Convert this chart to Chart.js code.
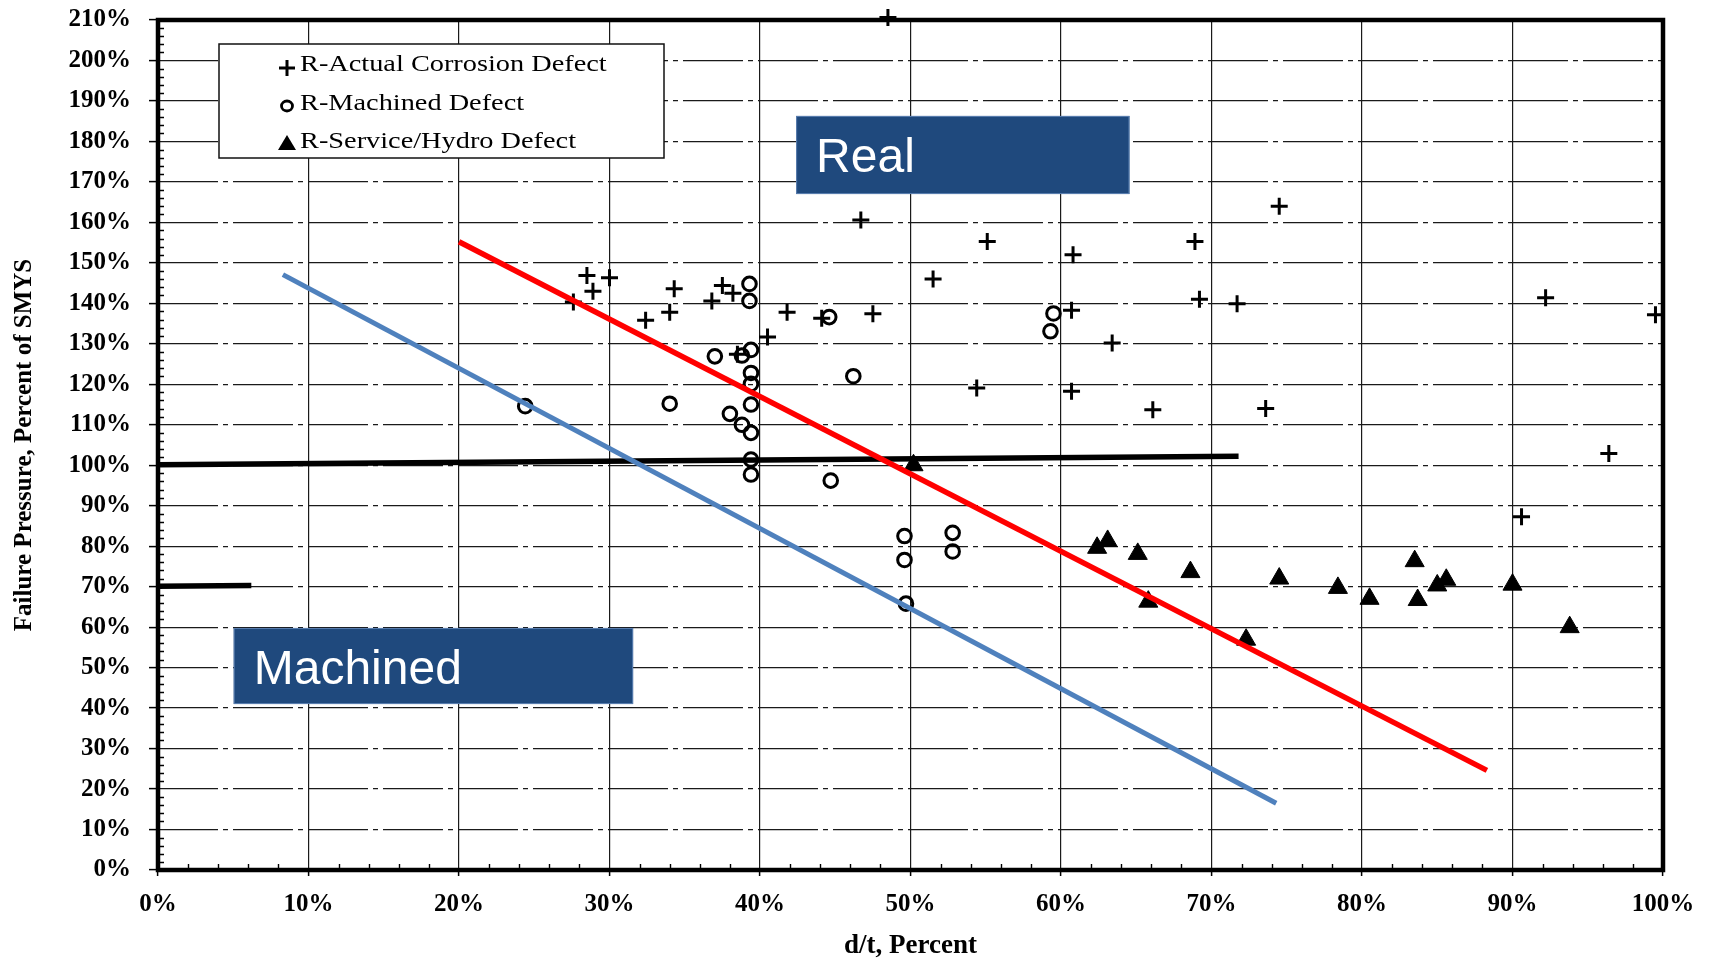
<!DOCTYPE html>
<html>
<head>
<meta charset="utf-8">
<title>Failure Pressure vs d/t</title>
<style>
  html, body { margin: 0; padding: 0; background: #ffffff; }
  canvas { display: block; }
</style>
<script src="https://cdn.jsdelivr.net/npm/chart.js@4.4.1/dist/chart.umd.min.js"></script>
</head>
<body>
<canvas id="chart" width="1711" height="963"></canvas>
<script>
// ---- data: d/t (percent) and failure pressure (percent of SMYS) ----
const corrosionDt = [48.5, 74.5, 46.7, 55.1, 68.9, 60.8, 51.5, 28.5, 30.0, 28.9, 27.6, 34.3, 34.0, 32.4,
                     37.5, 36.8, 38.2, 41.8, 40.5, 44.1, 47.5, 69.2, 71.7, 60.7, 92.2, 99.5, 63.4, 54.4,
                     60.7, 66.1, 73.6, 96.4, 90.6, 38.5];
const corrosionFp = [210.6, 164.0, 160.6, 155.3, 155.3, 152.0, 146.0, 146.9, 146.3, 143.0, 140.3, 143.6, 137.8, 135.8,
                     144.4, 140.6, 142.5, 137.8, 131.7, 136.3, 137.4, 141.0, 139.9, 138.3, 141.4, 137.2, 130.2, 119.1,
                     118.3, 113.7, 114.0, 102.9, 87.3, 127.4];

const machinedDt = [24.4, 34.0, 39.3, 39.3, 44.6, 37.0, 38.8, 39.4, 39.4, 39.4, 46.2, 39.4, 38.0,
                    38.8, 39.4, 39.4, 39.4, 44.7, 59.5, 59.3, 49.6, 49.6, 52.8, 52.8, 49.7];
const machinedFp = [114.6, 115.2, 144.8, 140.6, 136.6, 126.9, 127.1, 128.5, 122.8, 120.1, 122.0, 115.0, 112.7,
                    110.0, 108.0, 101.4, 97.7, 96.2, 137.5, 133.1, 82.5, 76.6, 83.3, 78.7, 65.8];

const serviceDt = [50.2, 62.4, 63.1, 65.1, 68.6, 65.8, 72.3, 74.5, 78.4, 80.5, 83.5, 83.7, 85.0, 85.6, 90.0, 93.8];
const serviceFp = [100.0, 79.6, 81.3, 78.1, 73.6, 66.3, 56.9, 72.0, 69.7, 67.0, 76.3, 66.7, 70.3, 71.7, 70.5, 60.0];

// trend lines (start, end)
const realLineDt = [20.0, 88.3];
const realLineFp = [155.2, 24.6];
const machinedLineDt = [8.3, 74.3];
const machinedLineFp = [147.1, 16.5];

// reference levels drawn as heavy rules
const smysRuleDt = [0, 71.8];
const smysRuleFp = [100.1, 102.2];
const hydroRuleDt = [0, 6.2];
const hydroRuleFp = [70.1, 70.3];

// axes
const xTicks = [0, 10, 20, 30, 40, 50, 60, 70, 80, 90, 100];
const yTicks = [0, 10, 20, 30, 40, 50, 60, 70, 80, 90, 100, 110, 120, 130, 140, 150, 160, 170, 180, 190, 200, 210];
const xTitle = 'd/t, Percent';
const yTitle = 'Failure Pressure, Percent of SMYS';

const seriesLabels = ['R-Actual Corrosion Defect', 'R-Machined Defect', 'R-Service/Hydro Defect'];
const calloutLabels = ['Real', 'Machined'];

// ---- helpers ----
const pair = (xs, ys) => xs.map((x, i) => ({ x: x, y: ys[i] }));
const SERIF = "'Liberation Serif', 'Times New Roman', serif";
const SANS = "'Liberation Sans', Arial, sans-serif";
Chart.defaults.font.family = SERIF;
Chart.defaults.color = '#000';

// frame around the plot area plus small inward minor ticks every 2 %
const framePlugin = {
  id: 'frame',
  beforeDatasetsDraw(chart) {
    const { ctx, chartArea: a, scales: { x, y } } = chart;
    ctx.save();
    ctx.strokeStyle = '#000';
    ctx.lineWidth = 1.4;
    ctx.beginPath();
    for (let v = 2; v < 210; v += 2) {
      if (v % 10 === 0) continue;
      const py = Math.round(y.getPixelForValue(v)) + 0.5;
      ctx.moveTo(a.left, py); ctx.lineTo(a.left + 6, py);
    }
    for (let v = 2; v < 100; v += 2) {
      if (v % 10 === 0) continue;
      const px = Math.round(x.getPixelForValue(v)) + 0.5;
      ctx.moveTo(px, a.bottom); ctx.lineTo(px, a.bottom - 6);
    }
    ctx.stroke();
    ctx.lineWidth = 4.5;
    ctx.strokeRect(a.left, a.top, a.right - a.left, a.bottom - a.top);
    ctx.restore();
  }
};

// legend box in the upper-left of the plot
const legendPlugin = {
  id: 'legendBox',
  afterDatasetsDraw(chart) {
    const { ctx } = chart;
    const bx = 219, by = 44, bw = 445, bh = 114;
    ctx.save();
    ctx.fillStyle = '#fff';
    ctx.fillRect(bx, by, bw, bh);
    ctx.strokeStyle = '#111';
    ctx.lineWidth = 1.5;
    ctx.strokeRect(bx, by, bw, bh);

    const rows = [
      { base: 71, cy: 68, style: 'cross' },
      { base: 110, cy: 106, style: 'circle' },
      { base: 148, cy: 144, style: 'triangle' }
    ];
    rows.forEach((r, i) => {
      const mx = 287;
      ctx.strokeStyle = '#000';
      ctx.fillStyle = '#000';
      ctx.beginPath();
      if (r.style === 'cross') {
        ctx.lineWidth = 3;
        ctx.moveTo(mx - 8, r.cy); ctx.lineTo(mx + 8, r.cy);
        ctx.moveTo(mx, r.cy - 8); ctx.lineTo(mx, r.cy + 8);
        ctx.stroke();
      } else if (r.style === 'circle') {
        ctx.lineWidth = 2.8;
        ctx.ellipse(mx, r.cy, 5.5, 5, 0, 0, Math.PI * 2);
        ctx.stroke();
      } else {
        ctx.moveTo(mx, r.cy - 9); ctx.lineTo(mx + 9, r.cy + 6); ctx.lineTo(mx - 9, r.cy + 6);
        ctx.closePath();
        ctx.fill();
      }
      ctx.save();
      ctx.translate(300, r.base);
      ctx.scale(1.18, 1);
      ctx.font = '24px ' + SERIF;
      ctx.textBaseline = 'alphabetic';
      ctx.fillText(seriesLabels[i], 0, 0);
      ctx.restore();
    });
    ctx.restore();
  }
};

// dark blue callout boxes, placed in data coordinates
const calloutPlugin = {
  id: 'callouts',
  afterDraw(chart) {
    const { ctx, scales: { x, y } } = chart;
    const boxes = [
      { label: calloutLabels[0], x0: 42.4, x1: 64.55, y0: 186.3, y1: 167.0 },
      { label: calloutLabels[1], x0: 5.03, x1: 31.57, y0: 59.8, y1: 41.0 }
    ];
    ctx.save();
    boxes.forEach(b => {
      const l = x.getPixelForValue(b.x0), r = x.getPixelForValue(b.x1);
      const t = y.getPixelForValue(b.y0), btm = y.getPixelForValue(b.y1);
      ctx.fillStyle = '#1F497D';
      ctx.fillRect(l, t, r - l, btm - t);
      ctx.strokeStyle = '#5b7fb0';
      ctx.lineWidth = 1;
      ctx.strokeRect(l + 0.5, t + 0.5, r - l - 1, btm - t - 1);
      ctx.fillStyle = '#ffffff';
      ctx.font = '48px ' + SANS;
      ctx.textBaseline = 'alphabetic';
      ctx.fillText(b.label, l + 20, t + 56);
    });
    ctx.restore();
  }
};

const ruleStyle = {
  showLine: true, pointRadius: 0, borderColor: '#000', borderWidth: 5.5,
  borderCapStyle: 'butt', fill: false, clip: false
};

new Chart(document.getElementById('chart'), {
  type: 'scatter',
  data: {
    datasets: [
      {
        label: 'Real', data: pair(realLineDt, realLineFp), showLine: true, pointRadius: 0,
        borderColor: '#FF0000', borderWidth: 5.5, fill: false, order: 0
      },
      {
        label: 'Machined', data: pair(machinedLineDt, machinedLineFp), showLine: true, pointRadius: 0,
        borderColor: '#4F81BD', borderWidth: 5, fill: false, order: 1
      },
      {
        label: seriesLabels[2], data: pair(serviceDt, serviceFp), pointStyle: 'triangle', pointRadius: 11,
        backgroundColor: '#000', borderColor: '#000', borderWidth: 1, clip: false, order: 2
      },
      {
        label: seriesLabels[1], data: pair(machinedDt, machinedFp), pointStyle: 'circle', pointRadius: 6.8,
        backgroundColor: 'rgba(0,0,0,0)', borderColor: '#000', borderWidth: 3, clip: false, order: 3
      },
      {
        label: seriesLabels[0], data: pair(corrosionDt, corrosionFp), pointStyle: 'cross', pointRadius: 8.5,
        backgroundColor: '#000', borderColor: '#000', borderWidth: 3, clip: false, order: 4
      },
      Object.assign({ label: '100% SMYS', data: pair(smysRuleDt, smysRuleFp), order: 5 }, ruleStyle),
      Object.assign({ label: '70% SMYS', data: pair(hydroRuleDt, hydroRuleFp), order: 6 }, ruleStyle)
    ]
  },
  options: {
    responsive: false,
    animation: false,
    devicePixelRatio: 1,
    events: [],
    layout: { padding: { top: 20, right: 48, bottom: 0, left: 0 } },
    plugins: { legend: { display: false }, tooltip: { enabled: false } },
    scales: {
      x: {
        type: 'linear', position: 'bottom', min: 0, max: 100,
        afterBuildTicks: s => { s.ticks = xTicks.map(v => ({ value: v })); },
        afterFit: s => { s.height = 93; s.paddingLeft = 0; s.paddingRight = 0; },
        grid: { color: '#1a1a1a', lineWidth: 1.2, tickLength: 6, tickColor: '#000', tickWidth: 1.5 },
        border: { display: false },
        ticks: {
          autoSkip: false, maxRotation: 0, padding: 14, color: '#000',
          font: { size: 25, weight: 'bold', family: SERIF },
          callback: v => v + '%'
        },
        title: {
          display: true, text: xTitle, color: '#000',
          font: { size: 27, weight: 'bold', family: SERIF },
          padding: { top: 0, bottom: 1 }
        }
      },
      y: {
        type: 'linear', position: 'left', min: 0, max: 210,
        afterBuildTicks: s => { s.ticks = yTicks.map(v => ({ value: v })); },
        afterFit: s => { s.width = 158; s.paddingTop = 0; s.paddingBottom = 0; },
        grid: { color: '#1a1a1a', lineWidth: 1.2, tickLength: 9, tickColor: '#000', tickWidth: 1.5 },
        border: { display: false, dash: [60, 5, 5, 5] },
        ticks: {
          autoSkip: false, padding: 18, color: '#000',
          font: { size: 25, weight: 'bold', family: SERIF },
          callback: v => v + '%'
        },
        title: {
          display: true, text: yTitle, color: '#000',
          font: { size: 25, weight: 'bold', family: SERIF },
          padding: { top: 10, bottom: 0 }
        }
      }
    }
  },
  plugins: [framePlugin, legendPlugin, calloutPlugin]
});
</script>
</body>
</html>
